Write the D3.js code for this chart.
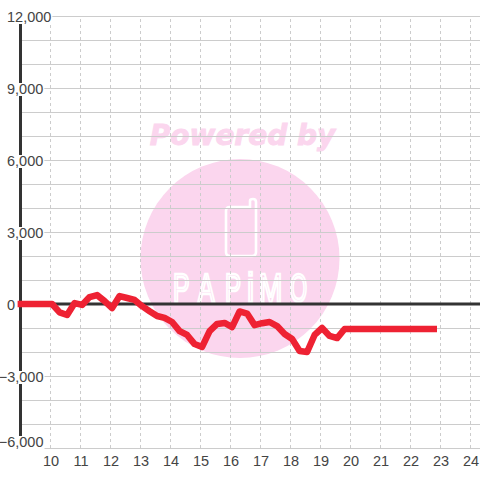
<!DOCTYPE html>
<html><head><meta charset="utf-8">
<script src="https://cdn.jsdelivr.net/npm/d3@7/dist/d3.min.js"></script>
<style>html,body{margin:0;padding:0;background:#fff}svg{display:block}text{font-family:"Liberation Sans",Arial,sans-serif}</style>
</head><body><div id="c"></div>
<script>
const xTicks = [10,11,12,13,14,15,16,17,18,19,20,21,22,23,24];
const yLabelTicks = [12000,9000,6000,3000,0,-3000,-6000];
const yGridTicks = d3.range(-6000,12001,1000);
const hours = [8.92,9.32,9.57,9.82,10.07,10.32,10.57,10.82,11.07,11.32,11.57,11.82,12.07,12.32,12.57,12.82,13.07,13.32,13.57,13.82,14.07,14.32,14.57,14.82,15.07,15.32,15.57,15.82,16.07,16.32,16.57,16.82,17.07,17.32,17.57,17.82,18.07,18.32,18.57,18.82,19.07,19.32,19.57,19.82,20.07,20.32,20.57,20.82,21.07,21.32,21.57,21.82,22.07,22.32,22.57,22.9];
const values = [0,0,0,0,0,-350,-460,40,-40,290,370,120,-170,330,250,170,-90,-300,-500,-580,-750,-1130,-1290,-1670,-1790,-1130,-830,-790,-960,-310,-400,-880,-800,-750,-920,-1250,-1460,-1960,-2000,-1290,-1000,-1330,-1420,-1040,-1040,-1040,-1040,-1040,-1040,-1040,-1040,-1040,-1040,-1040,-1040,-1040];
const logoLetters = ["P","A","P","i","M","O"];
const W=480,H=480;
const x=d3.scaleLinear().domain([9,24]).range([20,470]);
const y=d3.scaleLinear().domain([-6000,12000]).range([448,16]);
const svg=d3.select("#c").append("svg").attr("width",W).attr("height",H);
const pink="#fbd6ee";
// watermark
const wm=svg.append("g");
wm.append("circle").attr("cx",240).attr("cy",258.5).attr("r",99.5).attr("fill",pink);
wm.append("text").attr("x",242.5).attr("y",145).attr("text-anchor","middle").attr("font-size",28)
  .attr("font-weight","bold").attr("font-style","italic").attr("fill",pink).attr("stroke",pink).attr("stroke-width",0.9)
  .style("font-family","'DejaVu Sans'").text("Powered by");
wm.append("path").attr("d","M230 207 H250 V201 Q250 199 253 199 Q256 199 256 202 V252 Q256 256 252 256 H230 Q226 256 226 252 V211 Q226 207 230 207Z")
  .attr("fill","none").attr("stroke","#fff").attr("stroke-width",2.6);
const logoX=[173,198,225,247,259,290], logoS=[.62,.62,.6,.8,.7,.55];
logoLetters.forEach((c,i)=>{
  wm.append("text").attr("transform",`translate(${logoX[i]},302) scale(${logoS[i]},1)`)
    .attr("font-size",40).attr("fill","none").attr("stroke","#fff").attr("stroke-width",2.2)
    .style("vector-effect","non-scaling-stroke").text(c);
});
// grid
const gy=svg.append("g").attr("transform","translate(20,0)").call(d3.axisRight(y).tickValues(yGridTicks).tickSize(W-20).tickFormat(""));
gy.select(".domain").remove();
gy.selectAll("line").attr("stroke","#cccccc").attr("stroke-width",1.2);
const gx=svg.append("g").attr("transform","translate(0,448)").call(d3.axisTop(x).tickValues(xTicks).tickSize(432).tickFormat(""));
gx.select(".domain").remove();
gx.selectAll("line").attr("stroke","#cccccc").attr("stroke-width",1).attr("stroke-dasharray","3,3");
// axis lines
svg.append("line").attr("x1",20.5).attr("x2",20.5).attr("y1",y(12000)).attr("y2",y(-6000)).attr("stroke","#333").attr("stroke-width",3);
svg.append("line").attr("x1",20).attr("x2",W).attr("y1",y(0)).attr("y2",y(0)).attr("stroke","#333").attr("stroke-width",3);
// y labels
const fmt=d3.format(",");
const baseline=d=>d===-6000?447:y(d)+6;
const yl=svg.append("g");
yLabelTicks.forEach(d=>{
  const t=yl.append("text").attr("font-size",14.5).attr("fill","#444").attr("y",baseline(d)).text(fmt(d));
  if(d<0) t.attr("x",43.5).attr("text-anchor","end"); else t.attr("x",7);
  const b=t.node().getBBox();
  yl.insert("rect","text").attr("x",b.x-1).attr("y",baseline(d)-11).attr("width",b.width+2).attr("height",13).attr("fill","#fff");
});
// x labels
svg.append("g").attr("transform","translate(0,466)").selectAll("text").data(xTicks).join("text")
  .attr("x",d=>x(d)+1).attr("text-anchor","middle").attr("font-size",14.5).attr("fill","#444").text(d=>d);
// series
svg.append("path").attr("d",d3.line().x((d,i)=>x(hours[i])).y(d=>y(d))(values))
  .attr("fill","none").attr("stroke","#ee2233").attr("stroke-width",6.5).attr("stroke-linejoin","round");
</script></body></html>
